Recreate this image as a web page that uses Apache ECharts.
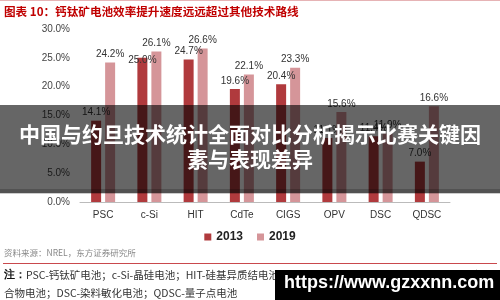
<!DOCTYPE html>
<html>
<head>
<meta charset="utf-8">
<script src="https://cdn.jsdelivr.net/npm/echarts@6/dist/echarts.min.js"></script>
<style>
    html, body { margin: 0; padding: 0; background: #fff; }
    #chart { width: 500px; height: 300px; }
</style>
</head>
<body>
<div id="chart"></div>
<script>
var categories = ['PSC', 'c-Si', 'HIT', 'CdTe', 'CIGS', 'OPV', 'DSC', 'QDSC'];
var years = ['2013', '2019'];
var eff2013 = [14.1, 25.0, 24.7, 19.6, 20.4, 11.1, 11.4, 7.0];
var eff2019 = [24.2, 26.1, 26.6, 22.1, 23.3, 15.6, 11.9, 16.6];
var yTicks = [0, 5, 10, 15, 20, 25, 30];

var chartTitle = '图表 10：钙钛矿电池效率提升速度远远超过其他技术路线';
var overlayLines = ['中国与约旦技术统计全面对比分析揭示比赛关键因', '素与表现差异'];
var sourceText = '资料来源：NREL，东方证券研究所';
var noteLines = ['PSC-钙钛矿电池；c-Si-晶硅电池；HIT-硅基异质结电池；CdTe-碲化镉；CIGS-铜铟镓硒；OPV-有机聚', '合物电池；DSC-染料敏化电池；QDSC-量子点电池'];
var watermark = 'https://www.gzxxnn.com';

initChart();

function initChart() {
    var chart = echarts.init(document.getElementById('chart'), null, {renderer: 'canvas'});
    chart.setOption(genOption());
}

function genSeries(name, values, color) {
    var data = values.map(function (v, i) {
        // c-Si 2013 label sits lower in the original so it doesn't hit 26.1%
        if (name === '2013' && categories[i] === 'c-Si') {
            return {value: v, label: {offset: [0, 10]}};
        }
        return v;
    });
    return {
        name: name,
        type: 'bar',
        barWidth: 10,
        barGap: '40%',
        data: data,
        itemStyle: {color: color},
        label: {
            show: true,
            position: 'top',
            distance: 3,
            color: '#333',
            fontSize: 10,
            fontFamily: 'Liberation Sans',
            formatter: function (p) { return p.value.toFixed(1) + '%'; }
        }
    };
}

function genOption() {
    var font = 'Liberation Sans, Noto Sans CJK SC';
    return {
        animation: false,
        grid: {left: 80, right: 50, top: 29, bottom: 98},
        legend: {
            data: years,
            bottom: 52,
            left: 'center',
            itemWidth: 7,
            itemHeight: 7,
            itemGap: 14,
            icon: 'rect',
            textStyle: {fontSize: 12, fontWeight: 'bold', color: '#222', fontFamily: font}
        },
        xAxis: {
            type: 'category',
            data: categories,
            axisLine: {lineStyle: {color: '#bbb'}},
            axisTick: {show: false},
            axisLabel: {color: '#333', fontSize: 10, margin: 8, fontFamily: font}
        },
        yAxis: {
            type: 'value',
            min: yTicks[0],
            max: yTicks[yTicks.length - 1],
            interval: 5,
            splitLine: {show: false},
            axisLine: {show: false},
            axisTick: {show: false},
            axisLabel: {
                color: '#444', fontSize: 10, margin: 10, fontFamily: font,
                formatter: function (v) { return v.toFixed(1) + '%'; }
            }
        },
        series: [
            genSeries(years[0], eff2013, '#b03a3d'),
            genSeries(years[1], eff2019, '#d59599')
        ],
        graphic: [
            {type: 'rect', shape: {x: 0, y: 0, width: 500, height: 1}, style: {fill: '#e6b3b5'}},
            {type: 'text', x: 4, y: 6, style: {text: chartTitle, fill: '#c00000', font: 'bold 11.6px Noto Sans CJK SC'}},
            {type: 'rect', z: 100, shape: {x: 0, y: 105, width: 500, height: 88}, style: {fill: 'rgba(0,0,0,0.6)'}},
            {type: 'rect', z: 100, shape: {x: 0, y: 189, width: 500, height: 5}, style: {fill: 'rgba(0,0,0,0.2)'}},
            {type: 'text', z: 101, x: 250, y: 122, style: {text: overlayLines.join('\n'), fill: '#fff', align: 'center', lineHeight: 25, font: 'bold 21px Noto Sans CJK SC'}},
            {type: 'text', x: 4, y: 249, style: {text: sourceText, fill: '#888', font: '8.5px Noto Sans CJK SC'}},
            {type: 'rect', shape: {x: 3, y: 263, width: 494, height: 1}, style: {fill: '#c9494d'}},
            {type: 'text', x: 4, y: 266, style: {rich: {b: {fontWeight: 'bold', fontSize: 10.5, fill: '#111'}}, text: '{b|注：}' + noteLines[0] + '\n' + noteLines[1], fill: '#333', lineHeight: 18, font: '10.5px Noto Sans CJK SC'}},
            {type: 'rect', z: 100, shape: {x: 275, y: 270, width: 225, height: 30}, style: {fill: '#000'}},
            {type: 'text', z: 101, x: 284, y: 274, style: {text: watermark, fill: '#fff', font: 'bold 18px Liberation Sans'}}
        ]
    };
}
</script>
</body>
</html>
